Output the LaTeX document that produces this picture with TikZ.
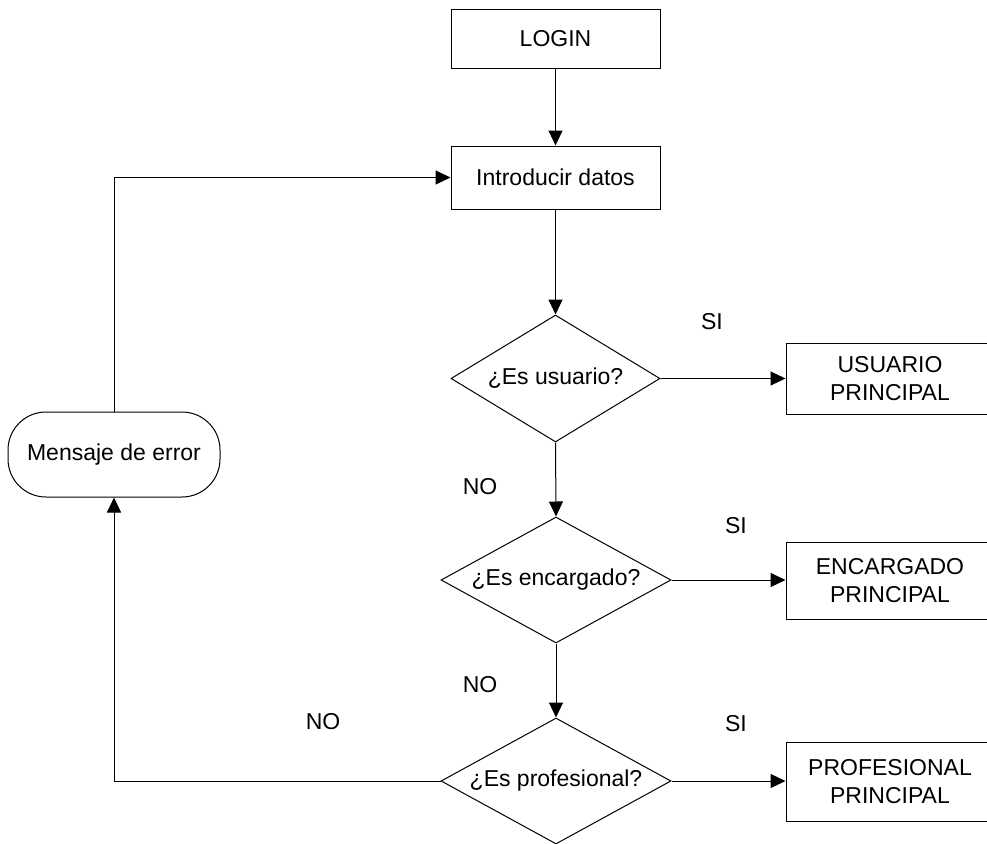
\documentclass[tikz,border=0pt]{standalone}
\usepackage{fontspec}
\setmainfont{Liberation Sans}
\usetikzlibrary{shapes.geometric,arrows.meta}

\tikzset{
  base/.style={draw=black, line width=1pt, inner sep=0pt, fill=white,
               font=\fontsize{23}{28}\selectfont, align=center},
  procbox/.style={base, rectangle},
  decision/.style={base, diamond},
  terminal/.style={base, rectangle, rounded corners=38pt},
  tag/.style={inner sep=0pt, font=\fontsize{23}{28}\selectfont},
  flow/.style={draw=black, line width=1pt, -{Triangle[length=15pt,width=14pt]}},
  flowline/.style={draw=black, line width=1pt}
}

\begin{document}
\begin{tikzpicture}[x=1pt,y=-1pt]
  \useasboundingbox (0,0) rectangle (987,843);
  \clip (0,0) rectangle (987,843);
  \fill[white] (0,0) rectangle (987,843);

  % process steps
  \node[procbox, minimum width=209pt, minimum height=58pt] (login) at (555.5,39) {LOGIN};
  \node[procbox, minimum width=209pt, minimum height=63pt] (intro) at (555.5,177.5) {Introducir datos};

  % decisions
  \node[decision, minimum width=209pt, minimum height=127pt] (d1) at (555.5,378.5) {\makebox[0pt]{¿Es usuario?}};
  \node[decision, minimum width=230pt, minimum height=126pt] (d2) at (556,580) {\makebox[0pt]{¿Es encargado?}};
  \node[decision, minimum width=230pt, minimum height=126pt] (d3) at (556,781) {\makebox[0pt]{¿Es profesional?}};

  % outcomes (right edges run past the page)
  \node[procbox, minimum width=208pt, minimum height=71pt] (usr) at (890,378.5) {USUARIO\\PRINCIPAL};
  \node[procbox, minimum width=208pt, minimum height=77pt] (enc) at (890,580.5) {ENCARGADO\\PRINCIPAL};
  \node[procbox, minimum width=208pt, minimum height=79pt] (pro) at (890,781.5) {PROFESIONAL\\PRINCIPAL};

  % error message
  \node[terminal, minimum width=212pt, minimum height=85pt] (err) at (114,454.5) {Mensaje de error};

  % main flow
  \draw[flow] (login.south) -- (intro.north);
  \draw[flow] (intro.south) -- (d1.north);
  \draw[flow] (d1.south) -- (d2.north);
  \draw[flow] (d2.south) -- (d3.north);

  % yes branches
  \draw[flow] (d1.east) -- (d1.east -| usr.west);
  \draw[flow] (d2.east) -- (d2.east -| enc.west);
  \draw[flow] (d3.east) -- (d3.east -| pro.west);

  % error loop
  \draw[flow] (d3.west) -| (err.south);
  \draw[flow] (err.north) |- (intro.west);

  % branch labels
  \node[tag] (si1) at (712,322) {SI};
  \node[tag] (si2) at (736,526) {SI};
  \node[tag] (si3) at (736,724) {SI};
  \node[tag] (no1) at (480,487) {NO};
  \node[tag] (no2) at (480,685) {NO};
  \node[tag] (no3) at (323,722) {NO};
\end{tikzpicture}
\end{document}
